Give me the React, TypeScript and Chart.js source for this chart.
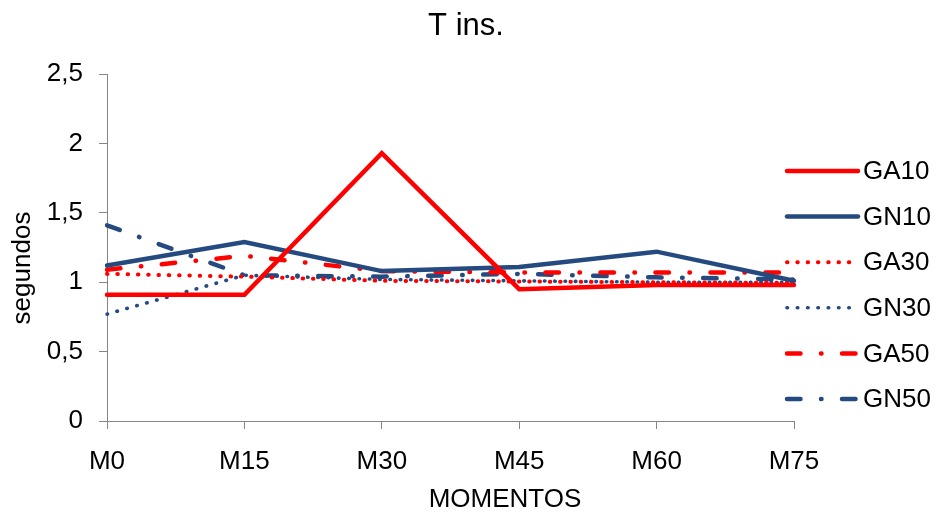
import React, { useEffect, useRef } from "react";
import { Chart, registerables } from "chart.js";

Chart.register(...registerables);

const titleText = "T ins.";
const xTitle = "MOMENTOS";
const yTitle = "segundos";
const categories = ["M0", "M15", "M30", "M45", "M60", "M75"];
const seriesNames = ["GA10", "GN10", "GA30", "GN30", "GA50", "GN50"];
const GA10 = [0.91, 0.91, 1.93, 0.95, 0.98, 0.98];
const GN10 = [1.12, 1.29, 1.08, 1.11, 1.22, 1.01];
const GA30 = [1.06, 1.04, 1.01, 1.005, 1.0, 0.995];
const GN30 = [0.77, 1.05, 1.02, 1.01, 1.0, 1.0];
const GA50 = [1.09, 1.19, 1.08, 1.07, 1.07, 1.07];
const GN50 = [1.41, 1.05, 1.04, 1.06, 1.035, 1.02];
const yMin = 0;
const yMax = 2.5;
const yStep = 0.5;

const RED = "#FF0000";
const NAVY = "#244A80";
const FONT = "'Liberation Sans', Arial, sans-serif";

const SOLID: number[] = [];
const DOT = [0.5, 9.8];
const DASHDOT = [13.5, 20.5, 0.5, 20.5];

const styles = [
  { color: RED, dash: SOLID, width: 4.5 },
  { color: NAVY, dash: SOLID, width: 4.5 },
  { color: RED, dash: DOT, width: 4 },
  { color: NAVY, dash: DOT, width: 3.6 },
  { color: RED, dash: DASHDOT, width: 4.5 },
  { color: NAVY, dash: DASHDOT, width: 4.5 },
];
const seriesValues = [GA10, GN10, GA30, GN30, GA50, GN50];

const customText = {
  id: "customText",
  afterDraw(chart: any) {
    const ctx = chart.ctx as CanvasRenderingContext2D;
    const area = chart.chartArea;
    ctx.save();
    // title
    ctx.fillStyle = "#000";
    ctx.font = `31px ${FONT}`;
    ctx.textAlign = "center";
    ctx.textBaseline = "middle";
    ctx.fillText(titleText, 466, 26);
    // legend
    const lx0 = area.right - 7;
    const lx1 = area.right + 64;
    const ly0 = 171;
    const lstep = 45.6;
    chart.data.datasets.forEach((ds: any, i: number) => {
      const y = ly0 + i * lstep;
      ctx.save();
      ctx.strokeStyle = ds.borderColor;
      ctx.lineWidth = ds.borderWidth;
      ctx.lineCap = "round";
      ctx.setLineDash(ds.borderDash || []);
      ctx.beginPath();
      ctx.moveTo(lx0, y);
      ctx.lineTo(lx1, y);
      ctx.stroke();
      ctx.restore();
      ctx.fillStyle = "#000";
      ctx.font = `26px ${FONT}`;
      ctx.textBaseline = "middle";
      ctx.textAlign = "left";
      ctx.fillText(ds.label, lx1 + 5, y + 1);
    });
    // axis titles
    ctx.fillStyle = "#000";
    ctx.font = `26px ${FONT}`;
    ctx.textAlign = "center";
    ctx.textBaseline = "middle";
    ctx.fillText(xTitle, 505, 500);
    ctx.save();
    ctx.translate(23, 268);
    ctx.rotate(-Math.PI / 2);
    ctx.fillText(yTitle, 0, 0);
    ctx.restore();
    ctx.restore();
  },
};

export default function App() {
  const ref = useRef<HTMLCanvasElement | null>(null);
  useEffect(() => {
    if (!ref.current) return;
    const chart = new Chart(ref.current, {
      type: "line",
      data: {
        labels: categories,
        datasets: seriesNames.map((name, i) => ({
          label: name,
          data: seriesValues[i],
          borderColor: styles[i].color,
          backgroundColor: styles[i].color,
          borderWidth: styles[i].width,
          borderDash: styles[i].dash,
          borderCapStyle: "round",
          borderJoinStyle: "miter",
          pointRadius: 0,
          pointHoverRadius: 0,
          tension: 0,
          fill: false,
        })),
      },
      options: {
        animation: false,
        responsive: false,
        maintainAspectRatio: false,
        layout: { padding: { left: 47, right: 142, top: 74, bottom: 0 } },
        plugins: {
          legend: { display: false },
          tooltip: { enabled: false },
          title: { display: false },
        },
        scales: {
          x: {
            type: "category",
            offset: false,
            afterFit: (s: any) => {
              s.height = 94;
            },
            grid: {
              display: true,
              drawOnChartArea: false,
              drawTicks: true,
              tickLength: 8,
              color: "#868686",
            },
            border: { display: true, color: "#868686", width: 1 },
            ticks: {
              color: "#000",
              padding: 17,
              maxRotation: 0,
              autoSkip: false,
              font: { family: FONT, size: 26 },
            },
          },
          y: {
            min: yMin,
            max: yMax,
            afterFit: (s: any) => {
              s.width = 60;
            },
            grid: {
              display: true,
              drawOnChartArea: false,
              drawTicks: true,
              tickLength: 8,
              color: "#868686",
            },
            border: { display: true, color: "#868686", width: 1 },
            ticks: {
              stepSize: yStep,
              color: "#000",
              padding: 16,
              font: { family: FONT, size: 26 },
              callback: (v: any) => String(v).replace(".", ","),
            },
          },
        },
      },
      plugins: [customText],
    });
    return () => chart.destroy();
  }, []);
  return (
    <div style={{ position: "fixed", left: 0, top: 0, width: 936, height: 515, background: "#fff" }}>
      <canvas ref={ref} width={936} height={515} style={{ width: 936, height: 515, display: "block" }} />
    </div>
  );
}
